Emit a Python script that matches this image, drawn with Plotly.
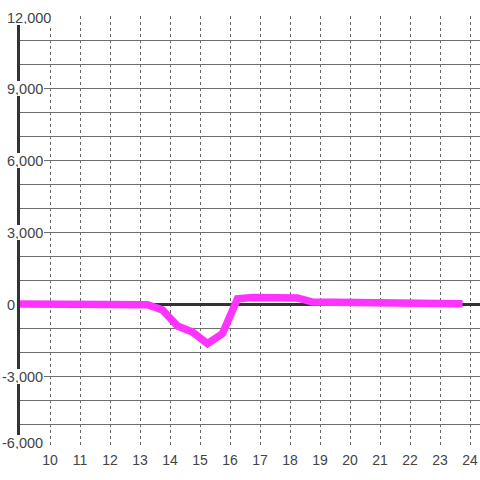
import plotly.graph_objects as go

hours = [9.0, 9.25, 9.75, 10.25, 10.75, 11.25, 11.75, 12.25, 12.75, 13.25, 13.75,
         14.25, 14.75, 15.25, 15.75, 16.25, 16.75, 17.25, 17.75, 18.25, 18.75,
         19.25, 19.75, 20.25, 20.75, 21.25, 21.75, 22.25, 22.75, 23.25, 23.75]
values = [0, 0, 0, 0, 0, 0, 0, 0, 0, -30, -250,
          -920, -1170, -1650, -1230, 220, 270, 285, 285, 250, 80,
          80, 80, 80, 80, 10, 10, 10, 10, 10, 10]

x_ticks = list(range(10, 25))
y_label_vals = [12000, 9000, 6000, 3000, 0, -3000, -6000]
y_label_text = ["12,000", "9,000", "6,000", "3,000", "0", "-3,000", "-6,000"]

W, H = 480, 480
ML, MR, MT, MB = 20, 0, 16, 32
PW = W - ML - MR
font_fam = "Liberation Sans, Arial, sans-serif"

fig = go.Figure()
fig.add_trace(go.Scatter(
    x=hours, y=values, mode="lines",
    line=dict(color="#ff33ff", width=7.5),
    hoverinfo="skip", showlegend=False,
))

annotations = []
for v, t in zip(y_label_vals, y_label_text):
    left_px = 1 if v < 0 else 6
    annotations.append(dict(
        x=(left_px - ML) / PW, xref="paper", xanchor="left",
        y=v, yref="y", yanchor="middle",
        yshift=6 if v == min(y_label_vals) else (-1 if v == max(y_label_vals) else 0),
        text=t, showarrow=False,
        font=dict(family=font_fam, size=14.5, color="#444"),
        bgcolor="white", borderpad=1, borderwidth=0, height=13,
    ))

fig.update_layout(
    width=W, height=H,
    margin=dict(l=ML, r=MR, t=MT, b=MB),
    paper_bgcolor="white", plot_bgcolor="white",
    annotations=annotations,
    xaxis=dict(
        range=[9, 24 + 10 / 30], tickvals=x_ticks,
        showgrid=True, gridcolor="#666", gridwidth=1, griddash="3px,3px",
        zeroline=False, showline=False, ticks="",
        ticklabelstandoff=2,
        tickfont=dict(family=font_fam, size=14, color="#444"),
        fixedrange=True,
    ),
    yaxis=dict(
        range=[-6000, 12000], dtick=1000, tick0=0,
        showgrid=True, gridcolor="#6e6e6e", gridwidth=1,
        zeroline=True, zerolinecolor="#333", zerolinewidth=3,
        showline=True, linecolor="#333", linewidth=3,
        showticklabels=False, ticks="",
        fixedrange=True,
    ),
)

fig.write_html("out.html", config={"displayModeBar": False},
               post_script="document.body.style.margin='0';")
